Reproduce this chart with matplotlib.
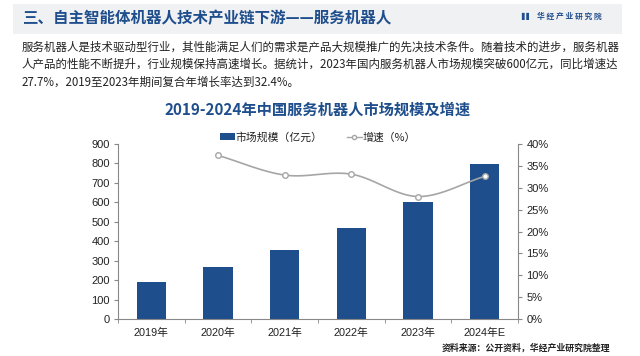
import matplotlib
matplotlib.use("Agg")
import matplotlib.pyplot as plt
import numpy as np
from matplotlib.patches import Rectangle
from matplotlib.lines import Line2D

plt.rcParams['font.family'] = ['Noto Sans CJK SC', 'DejaVu Sans']

categories = ["2019年", "2020年", "2021年", "2022年", "2023年", "2024年E"]
market_size = [190, 268, 355, 469, 603, 797]
growth_x = [1, 2, 3, 4, 5]
growth = [37.4, 32.9, 33.1, 28.0, 32.6]
left_ticks = [0, 100, 200, 300, 400, 500, 600, 700, 800, 900]
right_ticks = [0, 5, 10, 15, 20, 25, 30, 35, 40]

BLUE = "#1f4e8d"
TITLE_BLUE = "#1f4e8d"
GREY = "#a6a6a6"
TEXT = "#222222"
NUMFONT = ['Liberation Sans', 'Noto Sans CJK SC']

W, H = 640, 356
fig = plt.figure(figsize=(6.4, 3.56), dpi=100)
fig.patch.set_facecolor("white")

# header band
fig.patches.append(Rectangle((13 / W, 1 - 34 / H), 609 / W, 30 / H, transform=fig.transFigure,
                             facecolor="#f0f1f3", edgecolor="none", zorder=0))
fig.text(22 / W, 1 - 18 / H, "三、自主智能体机器人技术产业链下游——服务机器人", fontsize=11.2,
         fontweight="bold", color=TITLE_BLUE, va="center", ha="left")
fig.text(521 / W, 1 - 16 / H, "▌▌", fontsize=5, color=TITLE_BLUE, va="center", ha="left",
         family=['DejaVu Sans'])
fig.text(537 / W, 1 - 16 / H, "华 经 产 业 研 究 院", fontsize=5.6, fontweight="bold",
         color=TITLE_BLUE, va="center", ha="left")

para = ["服务机器人是技术驱动型行业，其性能满足人们的需求是产品大规模推广的先决技术条件。随着技术的进步，服务机器",
        "人产品的性能不断提升，行业规模保持高速增长。据统计，2023年国内服务机器人市场规模突破600亿元，同比增速达",
        "27.7%，2019至2023年期间复合年增长率达到32.4%。"]
for i, line in enumerate(para):
    fig.text(22 / W, 1 - (47 + 17.5 * i) / H, line, fontsize=8.25, color=TEXT, va="center", ha="left")

fig.text(318 / W, 1 - 110 / H, "2019-2024年中国服务机器人市场规模及增速", fontsize=11,
         fontweight="bold", color=TITLE_BLUE, va="center", ha="center")

ax = fig.add_axes([118 / W, 1 - 319 / H, 400 / W, 175 / H])
x = np.arange(len(categories))
ax.bar(x, market_size, width=0.44, color=BLUE, zorder=2)
ax.set_xlim(-0.5, len(categories) - 0.5)
ax.set_ylim(0, 900)
ax.set_yticks(left_ticks)
ax.set_yticklabels([str(v) for v in left_ticks], family=NUMFONT, fontsize=8, color=TEXT)
ax.set_xticks(x)
ax.set_xticklabels(categories, family=NUMFONT, fontsize=7.8, color=TEXT)
ax.set_xticks(np.arange(-0.5, len(categories)), minor=True)
ax.tick_params(axis="x", which="major", length=0, pad=6)
ax.tick_params(axis="x", which="minor", length=3, color="#888888", direction="out")
ax.tick_params(axis="y", length=3, color="#888888", direction="out", pad=3)
for s in ["top", "right"]:
    ax.spines[s].set_visible(False)
for s in ["left", "bottom"]:
    ax.spines[s].set_color("#888888")
    ax.spines[s].set_linewidth(0.8)

ax2 = ax.twinx()
ax2.set_ylim(0, 40)
ax2.set_yticks(right_ticks)
ax2.set_yticklabels([f"{v}%" for v in right_ticks], family=NUMFONT, fontsize=8, color=TEXT)
ax2.tick_params(axis="y", length=3, color="#888888", direction="out", pad=3)
for s in ["top", "left", "bottom"]:
    ax2.spines[s].set_visible(False)
ax2.spines["right"].set_color("#888888")
ax2.spines["right"].set_linewidth(0.8)

# smooth curve (Catmull-Rom) through the data points
gx = np.array(growth_x, dtype=float)
gy = np.array(growth, dtype=float)
px = np.concatenate([[2 * gx[0] - gx[1]], gx, [2 * gx[-1] - gx[-2]]])
py = np.concatenate([[2 * gy[0] - gy[1]], gy, [2 * gy[-1] - gy[-2]]])
sx, sy = [], []
for i in range(1, len(px) - 2):
    t = np.linspace(0, 1, 30)
    for arr, out in ((px, sx), (py, sy)):
        p0, p1, p2, p3 = arr[i - 1], arr[i], arr[i + 1], arr[i + 2]
        out.extend(0.5 * (2 * p1 + (-p0 + p2) * t + (2 * p0 - 5 * p1 + 4 * p2 - p3) * t ** 2
                          + (-p0 + 3 * p1 - 3 * p2 + p3) * t ** 3))
ax2.plot(sx, sy, color=GREY, lw=1.2, zorder=3)
ax2.plot(gx, gy, ls="none", marker="o", ms=4, mfc="white", mec=GREY, mew=1.0, zorder=4)

# legend
handles = [Rectangle((0, 0), 1, 1, facecolor=BLUE, edgecolor="none"),
           Line2D([0], [0], color=GREY, lw=1.0, marker="o", ms=3, mfc="white", mec=GREY)]
fig.legend(handles, ["市场规模（亿元）", "增速（%）"], loc="center", bbox_to_anchor=(318 / W, 1 - 137 / H),
           ncol=2, frameon=False, fontsize=7.8, handlelength=1.4, handleheight=0.6, columnspacing=2.2,
           handletextpad=0.1, labelcolor=TEXT)

fig.text(610 / W, 1 - 348 / H, "资料来源：公开资料，华经产业研究院整理", fontsize=6.4, fontweight="bold",
         color=TEXT, va="center", ha="right")

fig.savefig("out.png", dpi=100, facecolor="white")
